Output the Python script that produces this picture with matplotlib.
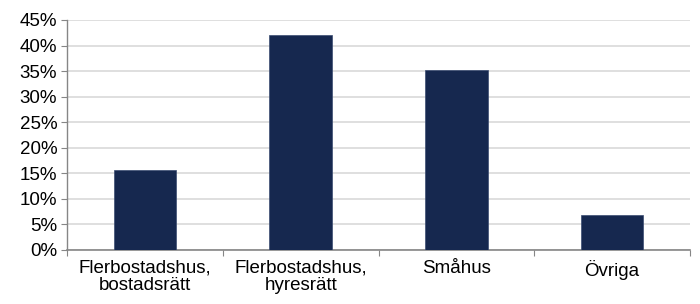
import matplotlib
matplotlib.use("Agg")
import matplotlib.pyplot as plt
from matplotlib.ticker import FuncFormatter, FixedLocator
import numpy as np

plt.rcParams['font.family'] = ['Liberation Sans', 'DejaVu Sans']

categories = ["Flerbostadshus,\nbostadsrätt", "Flerbostadshus,\nhyresrätt", "Småhus", "Övriga"]
shares = [15.7, 42.1, 35.2, 6.9]
yticks = [0, 5, 10, 15, 20, 25, 30, 35, 40, 45]

bar_color = "#16284f"
grid_color = "#d9d9d9"
axis_color = "#868686"

fig = plt.figure(figsize=(7, 3.04), dpi=100)
ax = fig.add_axes([67/700, 1 - 250/304, 623/700, 230/304])

x = np.arange(len(categories))
ax.bar(x, shares, width=0.4, color=bar_color, edgecolor="#3a4c72", linewidth=0.5, zorder=3)

ax.set_xlim(-0.5, len(categories) - 0.5)
ax.set_ylim(0, 45)
ax.set_yticks(yticks)
ax.yaxis.set_major_formatter(FuncFormatter(lambda v, p: f"{v:.0f}%"))
ax.yaxis.grid(True, color=grid_color, linewidth=1.2, zorder=0)

ax.xaxis.set_major_locator(FixedLocator(np.arange(-0.5, len(categories), 1.0)))
ax.xaxis.set_major_formatter(FuncFormatter(lambda v, p: ""))
ax.xaxis.set_minor_locator(FixedLocator(x))
ax.set_xticklabels(categories, minor=True, linespacing=1.0)
ax.tick_params(axis="x", which="major", length=4, color=axis_color, direction="out")
ax.tick_params(axis="x", which="minor", length=0, pad=7, labelsize=13.5, colors="#000000")
ax.tick_params(axis="y", length=4, color=axis_color, labelsize=13.5, pad=3)

for s in ["top", "right"]:
    ax.spines[s].set_visible(False)
ax.spines["left"].set_color(axis_color)
ax.spines["bottom"].set_color(axis_color)
ax.spines["left"].set_linewidth(1)
ax.spines["bottom"].set_linewidth(1.2)

fig.savefig("out.png", dpi=100)
